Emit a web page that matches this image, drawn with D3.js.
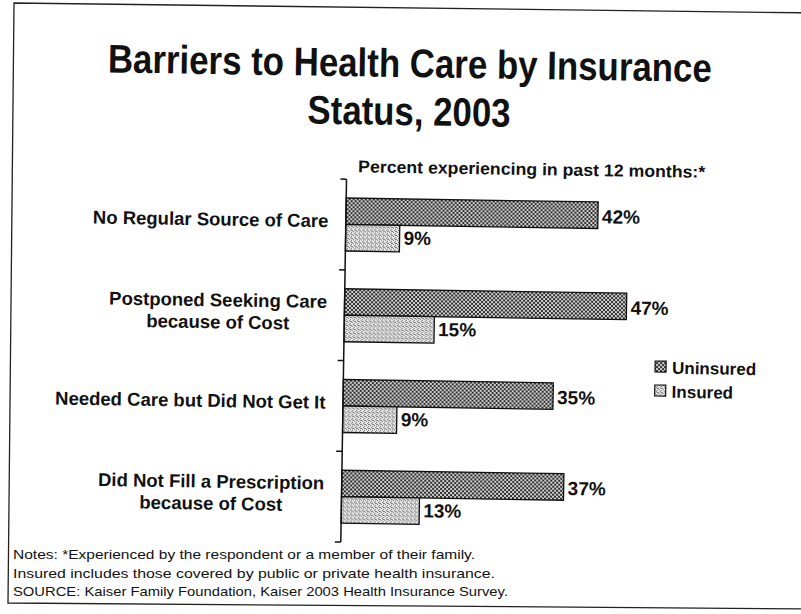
<!DOCTYPE html>
<html>
<head>
<meta charset="utf-8">
<script src="https://cdn.jsdelivr.net/npm/d3@7"></script>
<style>
  body { margin: 0; background: #fff; }
  svg { display: block; }
  text { font-family: "Liberation Sans", Arial, Helvetica, sans-serif; fill: #111; }
</style>
</head>
<body>
<svg id="chart" width="801" height="614"></svg>
<script>
// ---- data ----
const categories = [
  "No Regular Source of Care",
  "Postponed Seeking Care\nbecause of Cost",
  "Needed Care but Did Not Get It",
  "Did Not Fill a Prescription\nbecause of Cost"
];
const series = ["Uninsured", "Insured"];
const uninsured = [42, 47, 35, 37];
const insured = [9, 15, 9, 13];
const titleLines = ["Barriers to Health Care by Insurance", "Status, 2003"];
const subtitle = "Percent experiencing in past 12 months:*";
const noteLines = [
  "Notes: *Experienced by the respondent or a member of their family.",
  "Insured includes those covered by public or private health insurance.",
  "SOURCE: Kaiser Family Foundation, Kaiser 2003 Health Insurance Survey."
];

const values = { Uninsured: uninsured, Insured: insured };
const rows = categories.map((c, i) => ({
  category: c,
  bars: series.map(s => ({ series: s, value: values[s][i] }))
}));

const svg = d3.select("#chart");
const defs = svg.append("defs");

// crosshatch fill for the uninsured bars
const pU = defs.append("pattern").attr("id", "pat-uninsured")
  .attr("patternUnits", "userSpaceOnUse").attr("width", 4).attr("height", 4);
pU.append("rect").attr("width", 4).attr("height", 4).attr("fill", "#d2d2d2");
[[0,0],[1,1],[2,2],[3,3],[3,0],[2,1],[1,2],[0,3]].forEach(([x, y]) =>
  pU.append("rect").attr("x", x).attr("y", y).attr("width", 1).attr("height", 1).attr("fill", "#2e2e2e"));

// light stipple for the insured bars
const pI = defs.append("pattern").attr("id", "pat-insured")
  .attr("patternUnits", "userSpaceOnUse").attr("width", 4).attr("height", 4);
pI.append("rect").attr("width", 4).attr("height", 4).attr("fill", "#ececec");
[[0,0],[2,1],[1,2],[3,3],[2,3]].forEach(([x, y]) =>
  pI.append("rect").attr("x", x).attr("y", y).attr("width", 1).attr("height", 1).attr("fill", "#6a6a6a"));

const fills = { Uninsured: "url(#pat-uninsured)", Insured: "url(#pat-insured)" };

// slide frame
svg.append("path")
  .attr("d", "M 820 13 L 14 3 L 8 603 L 820 609")
  .attr("fill", "none").attr("stroke", "#222").attr("stroke-width", 1.3);

// notes along the bottom of the frame
svg.selectAll("text.note").data(noteLines).join("text")
  .attr("class", "note")
  .attr("x", 13).attr("y", (d, i) => 559 + i * 18.5)
  .attr("font-size", 13.5)
  .attr("textLength", (d, i) => [462, 482, 495][i])
  .attr("lengthAdjust", "spacingAndGlyphs")
  .text(d => d);

// the printed page sits slightly askew
const g = svg.append("g").attr("transform", "rotate(0.9,400,307)");

// title
g.selectAll("text.title").data(titleLines).join("text")
  .attr("class", "title")
  .attr("x", 406).attr("y", (d, i) => 77 + i * 48)
  .attr("text-anchor", "middle")
  .attr("font-size", 40).attr("font-weight", "bold")
  .attr("textLength", (d, i) => i === 0 ? 604 : 203)
  .attr("lengthAdjust", "spacingAndGlyphs")
  .text(d => d);

g.append("text")
  .attr("x", 356).attr("y", 173)
  .attr("font-size", 17).attr("font-weight", "bold")
  .attr("textLength", 347).attr("lengthAdjust", "spacingAndGlyphs")
  .text(subtitle);

// scales
const x = d3.scaleLinear().domain([0, 50]).range([344.5, 644.5]);
const y0 = d3.scaleBand().domain(categories).range([180, 543]).padding(0);
const y1 = d3.scaleBand().domain(series).range([0, y0.bandwidth()])
  .paddingInner(0).paddingOuter(0.712);

// bars
const grp = g.selectAll("g.cat").data(rows).join("g")
  .attr("class", "cat")
  .attr("transform", d => `translate(0,${y0(d.category)})`);

grp.selectAll("rect").data(d => d.bars).join("rect")
  .attr("x", x(0))
  .attr("y", d => y1(d.series))
  .attr("width", d => x(d.value) - x(0))
  .attr("height", y1.bandwidth())
  .attr("fill", d => fills[d.series])
  .attr("stroke", "#111").attr("stroke-width", 1.3);

grp.selectAll("text.val").data(d => d.bars).join("text")
  .attr("class", "val")
  .attr("x", d => x(d.value) + 4)
  .attr("y", d => y1(d.series) + y1.bandwidth() / 2 + (d.series === "Uninsured" ? 8 : 6))
  .attr("font-size", 19).attr("font-weight", "bold")
  .text(d => d.value + "%");

// category axis: line with boundary ticks to the left
const [yTop, yBot] = y0.range();
g.append("line")
  .attr("x1", x(0)).attr("x2", x(0)).attr("y1", yTop).attr("y2", yBot)
  .attr("stroke", "#111").attr("stroke-width", 1.5);
const bounds = categories.map(c => y0(c)).concat([yBot]);
g.selectAll("line.tick").data(bounds).join("line")
  .attr("class", "tick")
  .attr("x1", x(0) - 6).attr("x2", x(0))
  .attr("y1", d => d).attr("y2", d => d)
  .attr("stroke", "#111").attr("stroke-width", 1.5);

// category labels: centred blocks whose widest line ends near the axis
const labelRight = 327;
rows.forEach(r => {
  const lines = r.category.split("\n");
  const cy = y0(r.category) + y0.bandwidth() / 2;
  const t = g.append("text")
    .attr("text-anchor", "middle")
    .attr("font-size", 18.5).attr("font-weight", "bold");
  const spans = lines.map((ln, i) => t.append("tspan")
    .attr("y", lines.length === 1 ? cy + 3 : cy - 7 + i * 22)
    .text(ln));
  const w = d3.max(spans, s => s.node().getComputedTextLength());
  spans.forEach(s => s.attr("x", labelRight - w / 2));
});

// legend
const leg = g.selectAll("g.leg").data(series).join("g")
  .attr("class", "leg")
  .attr("transform", (d, i) => `translate(656,${357 + i * 24})`);
leg.append("rect").attr("width", 11).attr("height", 11)
  .attr("fill", d => fills[d]).attr("stroke", "#111").attr("stroke-width", 1.2);
leg.append("text").attr("x", 17).attr("y", 12.5)
  .attr("font-size", 17).attr("font-weight", "bold")
  .text(d => d);
</script>
</body>
</html>
